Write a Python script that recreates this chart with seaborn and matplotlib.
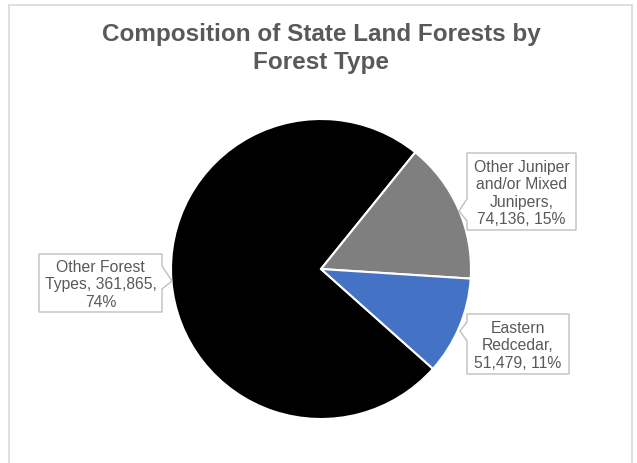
import matplotlib.pyplot as plt
import seaborn as sns

# data
forest_types = ["Other Forest Types", "Other Juniper and/or Mixed Junipers", "Eastern Redcedar"]
acres = [361865, 74136, 51479]
slice_colors = ["#000000", "#7f7f7f", "#4472c4"]
label_texts = ["Other Forest\nTypes, 361,865,\n74%",
               "Other Juniper\nand/or Mixed\nJunipers,\n74,136, 15%",
               "Eastern\nRedcedar,\n51,479, 11%"]

sns.set_theme(style="white")
plt.rcParams['font.family'] = ['Liberation Sans', 'DejaVu Sans']

W, H = 637, 464
fig = plt.figure(figsize=(W / 100, H / 100), dpi=100)
ax = fig.add_axes([0, 0, 1, 1])

# chart border
ax.add_patch(plt.Rectangle((9, -5), 623, H - 6 + 5, fill=False,
                           edgecolor="#d9d9d9", linewidth=1.2))

# pie: Excel style, clockwise
ax.pie(acres, colors=slice_colors, startangle=-41.7, counterclock=False,
       center=(321, H - 270), radius=150, frame=True,
       wedgeprops=dict(edgecolor="white", linewidth=1.5))
ax.set_xlim(0, W)
ax.set_ylim(0, H)
ax.set_aspect("equal")
ax.axis("off")

# callout boxes: (left, top, right, bottom), notch side, notch y range, tip
boxes = [((39, 255, 162, 313), "right", (267, 290), (172, 282)),
         ((467, 154, 576, 231), "left", (200, 222), (459, 212)),
         ((467, 315, 569, 375), "left", (323, 342), (460, 332))]

for txt, (box, side, (n0, n1), tip) in zip(label_texts, boxes):
    l, t, r, b = box
    if side == "right":
        pts = [(l, t), (r, t), (r, n0), tip, (r, n1), (r, b), (l, b)]
    else:
        pts = [(l, t), (r, t), (r, b), (l, b), (l, n1), tip, (l, n0)]
    pts = [(px, H - py) for px, py in pts]
    ax.add_patch(plt.Polygon(pts, closed=True, facecolor="white",
                             edgecolor="#bfbfbf", linewidth=1, zorder=3))
    ax.text((l + r) / 2, H - (t + b) / 2 - 1, txt, ha="center", va="center",
            fontsize=11.3, color="#595959", linespacing=1.22, zorder=4)

ax.text(321, H - 48.5, "Composition of State Land Forests by\nForest Type",
        ha="center", va="center", fontsize=17.5, fontweight="bold",
        color="#595959", linespacing=1.27)

fig.savefig("out.png", dpi=100)
